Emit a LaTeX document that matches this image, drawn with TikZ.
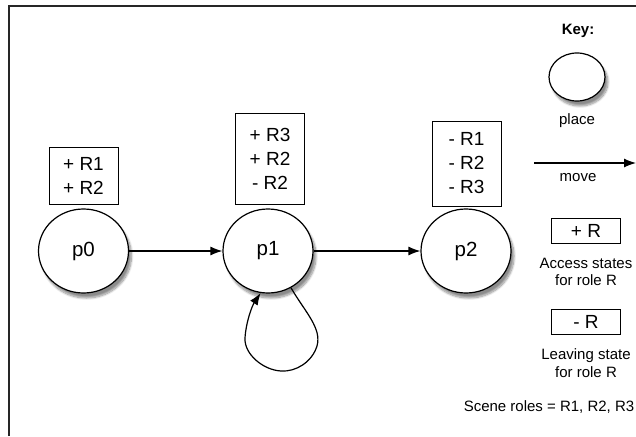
\documentclass[tikz,border=0pt]{standalone}
\usepackage{fontspec}
\setmainfont{Liberation Sans}
\usetikzlibrary{shapes.geometric,arrows.meta,shadows.blur}
\begin{document}
\begin{tikzpicture}[x=1pt,y=-1pt,
  place/.style={ellipse,draw,line width=1.2pt,fill=white,minimum width=90pt,minimum height=84pt,inner sep=0pt,
    font=\fontsize{20.5}{22}\selectfont,
    blur shadow={shadow xshift=3pt,shadow yshift=-5pt,shadow blur steps=10,shadow opacity=45}},
  rolebox/.style={draw,line width=1pt,fill=white,align=center,inner sep=0pt,minimum width=69pt,
    font=\fontsize{19}{24}\selectfont},
  movearrow/.style={-{Latex[length=12pt,width=9pt]},line width=1.2pt},
  keytext/.style={align=center,font=\fontsize{15}{17.5}\selectfont}]
\useasboundingbox (0,0) rectangle (636,436);
\draw[line width=2pt,color=black!85] (9,436) -- (9,6) -- (636,6);
% places
\node[place] (p0) at (83.5,251) {p0};
\node[place] (p1) at (268,251) {p1};
\node[place] (p2) at (466,251) {p2};
% role boxes
\node[rolebox,minimum height=57pt] (b0) at (83.5,175.5) {+ R1\\+ R2};
\node[rolebox,minimum height=91pt] (b1) at (270,158.5) {+ R3\\+ R2\\- R2};
\node[rolebox,minimum height=85pt] (b2) at (466.5,163.5) {- R1\\- R2\\- R3};
% moves
\draw[movearrow] (p0) -- (p1);
\draw[movearrow] (p1) -- (p2);
\draw[movearrow] (p1.-58) .. controls (305,312) and (322,328) .. (317,346)
  .. controls (312,362) and (296,372) .. (281,371)
  .. controls (263,370) and (244,354) .. (245,338)
  .. controls (246,322) and (252,306) .. (p1.-100);
% key
\node[font=\bfseries\fontsize{15}{17}\selectfont] (key) at (578,31) {Key:};
\node[place,minimum width=56pt,minimum height=48pt] (kplace) at (577,77) {};
\node[keytext] (lplace) at (577,121) {place};
\coordinate (ma) at (534,163);
\coordinate (mb) at (636,163);
\draw[movearrow] (ma) -- (mb);
\node[keytext] (lmove) at (578,178) {move};
\node[rolebox,minimum height=25pt] (kplus) at (586,231) {+ R};
\node[keytext] (lplus) at (586,272) {Access states\\for role R};
\node[rolebox,minimum height=25pt] (kminus) at (586,322) {- R};
\node[keytext] (lminus) at (586,363) {Leaving state\\for role R};
\node[keytext] (roles) at (549,407) {Scene roles = R1, R2, R3};
\end{tikzpicture}
\end{document}
